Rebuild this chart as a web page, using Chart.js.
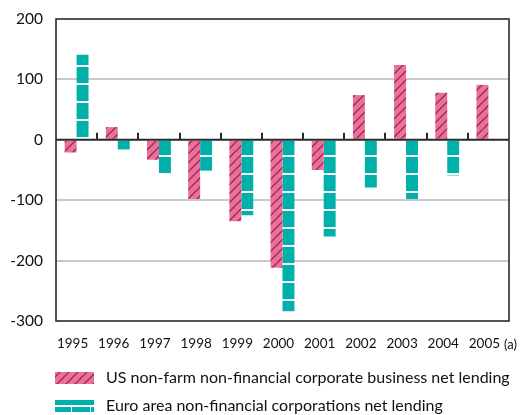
<!DOCTYPE html>
<html>
<head>
<meta charset="utf-8">
<script src="https://cdn.jsdelivr.net/npm/chart.js@4"></script>
<style>
  html, body { margin: 0; padding: 0; background: #ffffff; }
  #wrap { position: relative; width: 523px; height: 415px; }
</style>
</head>
<body>
<div id="wrap"><canvas id="c" width="523" height="415"></canvas></div>
<script>
// ---- Data ----
const years = ['1995', '1996', '1997', '1998', '1999', '2000', '2001', '2002', '2003', '2004', '2005'];
const usNetLending = [-21, 21, -33, -98, -135, -212, -50, 74, 124, 78, 91];
const euroNetLending = [141, -16, -58, -51, -125, -284, -160, -79, -98, -59, null];
const yTicks = [200, 100, 0, -100, -200, -300];
const seriesLabels = [
  'US non-farm non-financial corporate business net lending',
  'Euro area non-financial corporations net lending'
];
const lastYearNote = '(a)';

// ---- Patterns ----
const PINK = '#f07090';
const PURPLE = '#8a2a7e';
const TEAL = '#00b0aa';

function makeHatch() {
  const c = document.createElement('canvas');
  c.width = 9; c.height = 9;
  const g = c.getContext('2d');
  g.fillStyle = PINK; g.fillRect(0, 0, 9, 9);
  g.strokeStyle = PURPLE; g.lineWidth = 1.3;
  g.beginPath();
  g.moveTo(-1, 10); g.lineTo(10, -1);
  g.moveTo(-1, 1); g.lineTo(1, -1);
  g.moveTo(8, 10); g.lineTo(10, 8);
  g.stroke();
  return g.createPattern(c, 'repeat');
}
function makeTealBands() {
  const c = document.createElement('canvas');
  c.width = 16; c.height = 18;
  const g = c.getContext('2d');
  g.fillStyle = TEAL; g.fillRect(0, 0, 16, 18);
  g.fillStyle = '#ffffff'; g.fillRect(0, 11, 16, 2);
  return g.createPattern(c, 'repeat');
}
const hatch = makeHatch();
const tealBands = makeTealBands();

const FONT = 'Lato, "Open Sans", "DejaVu Sans", sans-serif';

const decor = {
  id: 'decor',
  afterDatasetsDraw(chart) {
    const ctx = chart.ctx;
    const a = chart.chartArea;
    const x = chart.scales.x, y = chart.scales.y;
    ctx.save();
    const y0 = y.getPixelForValue(0);
    ctx.strokeStyle = '#2a2a2a';
    ctx.lineWidth = 2;
    ctx.beginPath();
    ctx.moveTo(a.left, y0); ctx.lineTo(a.right, y0);
    for (let i = 0; i < years.length - 1; i++) {
      const px = Math.round((x.getPixelForValue(i) + x.getPixelForValue(i + 1)) / 2);
      ctx.moveTo(px, y0); ctx.lineTo(px, y0 - 7);
    }
    ctx.stroke();
    ctx.lineWidth = 1.6;
    ctx.strokeRect(a.left, a.top, a.right - a.left, a.bottom - a.top);
    ctx.restore();
  },
  afterDraw(chart) {
    const ctx = chart.ctx;
    const x = chart.scales.x;
    ctx.save();
    ctx.fillStyle = '#111';
    ctx.textBaseline = 'middle';
    ctx.textAlign = 'left';
    const lastPx = x.getPixelForValue(years.length - 1) - 4;
    ctx.font = '13.5px ' + FONT;
    const w = ctx.measureText(years[years.length - 1]).width;
    ctx.font = '13px ' + FONT;
    ctx.fillText(lastYearNote, lastPx + w / 2 + 4, 345);
    const rows = [372, 400];
    chart.data.datasets.forEach((ds, i) => {
      const top = rows[i];
      ctx.fillStyle = i === 0 ? hatch : TEAL;
      ctx.fillRect(55, top, 39, 12);
      if (i === 1) {
        ctx.fillStyle = '#ffffff';
        ctx.fillRect(55, top + 5, 39, 2);
        ctx.fillRect(71, top + 7, 1, 5);
        ctx.fillRect(90, top + 7, 1, 5);
      }
      ctx.fillStyle = '#111';
      ctx.font = '16px ' + FONT;
      ctx.textBaseline = 'middle';
      ctx.fillText(ds.label, 106, top + 6);
    });
    ctx.restore();
  }
};

new Chart(document.getElementById('c'), {
  type: 'bar',
  data: {
    labels: years,
    datasets: [
      { label: seriesLabels[0], data: usNetLending, backgroundColor: hatch, borderWidth: 0 },
      { label: seriesLabels[1], data: euroNetLending, backgroundColor: tealBands, borderWidth: 0 }
    ]
  },
  options: {
    responsive: false,
    animation: false,
    devicePixelRatio: 1,
    layout: { padding: { top: 19, right: 14, bottom: 59, left: 0 } },
    plugins: { legend: { display: false }, tooltip: { enabled: false } },
    datasets: { bar: { categoryPercentage: 0.58, barPercentage: 1.0 } },
    scales: {
      x: {
        grid: { display: false, drawTicks: false },
        border: { display: false },
        ticks: { color: '#111', font: { family: FONT, size: 13.5 }, padding: 15, labelOffset: -4, maxRotation: 0, autoSkip: false },
        afterFit(s) { s.height = 35; s.paddingLeft = 0; s.paddingRight = 0; }
      },
      y: {
        min: -300, max: 200,
        afterBuildTicks(s) { s.ticks = yTicks.map(v => ({ value: v })); },
        grid: {
          drawTicks: false,
          lineWidth: 2,
          color: (c) => (c.tick && [100, -100, -200].includes(c.tick.value)) ? '#c9c9c9' : 'rgba(0,0,0,0)'
        },
        border: { display: false },
        ticks: { color: '#111', font: { family: FONT, size: 15.5 }, padding: 13 },
        afterFit(s) { s.width = 56; s.paddingTop = 0; s.paddingBottom = 0; }
      }
    }
  },
  plugins: [decor]
});
</script>
</body>
</html>
